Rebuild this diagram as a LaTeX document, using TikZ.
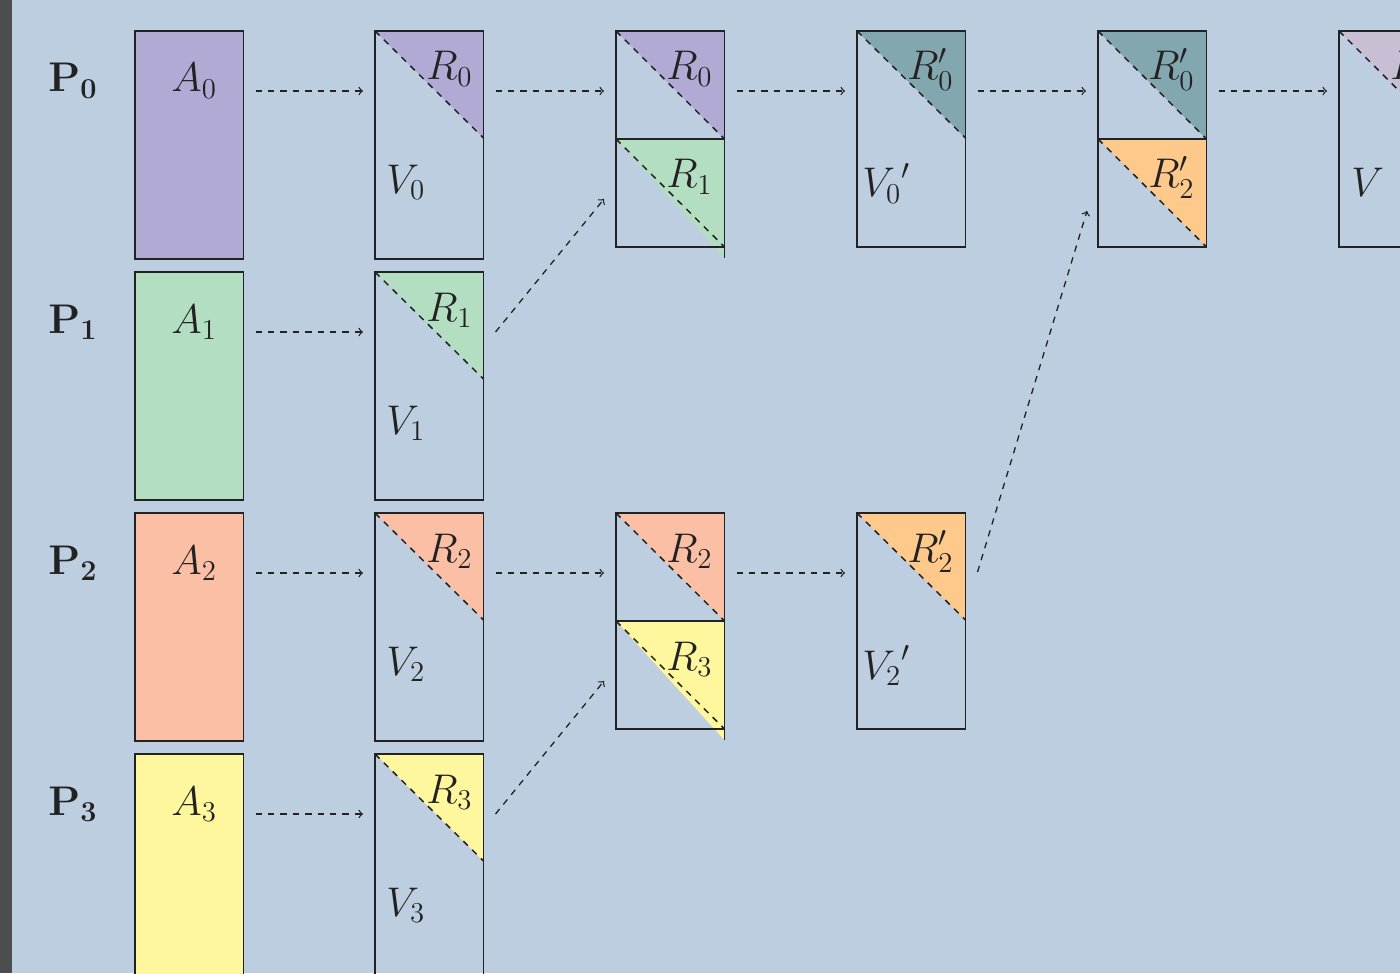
\documentclass[tikz,border=0pt]{standalone}
\usetikzlibrary{calc}
\pgfdeclarelayer{back}
\pgfdeclarelayer{bg}
\pgfsetlayers{back,bg,main}
\definecolor{bgc}{HTML}{BDCEE0}
\definecolor{stripc}{HTML}{4B4D4F}
\definecolor{linec}{HTML}{222222}
\definecolor{cpurple}{HTML}{B0AAD4}
\definecolor{cgreen}{HTML}{B3DEC1}
\definecolor{csalmon}{HTML}{FBBFA5}
\definecolor{cyellow}{HTML}{FFF79D}
\definecolor{cteal}{HTML}{83A7AF}
\definecolor{corange}{HTML}{FEC98A}
\definecolor{clilac}{HTML}{C8BFD4}
\newcommand\halftri[4]{% node, colour, fill drop, line drop
  \begin{pgfonlayer}{bg}
    \fill[#2] (#1.north west) -- (#1.north east) -- ($(#1.north east)+(0,#3)$) -- cycle;
  \end{pgfonlayer}
  \draw[hyp] (#1.north west) -- ($(#1.north east)+(0,#4)$);}
\begin{document}
\begin{tikzpicture}[x=0.5pt,y=-0.5pt,
  font=\fontsize{22.3}{27}\selectfont,
  box/.style={draw=linec, line width=0.95pt, inner sep=0pt, outer sep=0pt, anchor=north west, minimum width=54.25pt},
  tall/.style={box, minimum height=114pt},
  sq/.style={box, minimum height=54pt},
  hyp/.style={draw=linec, line width=0.75pt, dash pattern=on 3.2pt off 3pt},
  arr/.style={draw=linec, line width=0.65pt, dash pattern=on 3.2pt off 3pt, ->},
  lbl/.style={anchor=base west, inner sep=0pt, text=linec}]
\useasboundingbox (0,0) rectangle (1400,973);
\begin{pgfonlayer}{back}
  \fill[bgc] (0,0) rectangle (1400,973);
  \fill[stripc] (0,0) rectangle (12,973);
\end{pgfonlayer}
\clip (0,0) rectangle (1400,973);

% ---- column A ----
\node[tall, fill=cpurple] (A0) at (135,31) {};
\node[tall, fill=cgreen] (A1) at (135,272) {};
\node[tall, fill=csalmon] (A2) at (135,513) {};
\node[tall, fill=cyellow] (A3) at (135,754) {};

% ---- column V ----
\node[tall] (V0) at (375,31) {};
\node[tall] (V1) at (375,272) {};
\node[tall] (V2) at (375,513) {};
\node[tall] (V3) at (375,754) {};
\halftri{V0}{cpurple}{107}{107}
\halftri{V1}{cgreen}{107}{107}
\halftri{V2}{csalmon}{107}{107}
\halftri{V3}{cyellow}{107}{107}

% ---- column C ----
\node[sq] (C0t) at (616,31) {};
\node[sq] (C0b) at (616,139) {};
\node[sq] (C2t) at (616,513) {};
\node[sq] (C2b) at (616,621) {};
\halftri{C0t}{cpurple}{108}{108}
\halftri{C0b}{cgreen}{119}{108}
\halftri{C2t}{csalmon}{108}{108}
\halftri{C2b}{cyellow}{119}{108}
\draw[draw=linec, line width=0.9pt] (C0b.south east) -- ++(0,11);
\draw[draw=linec, line width=0.9pt] (C2b.south east) -- ++(0,11);

% ---- column D ----
\node[box, minimum height=108pt] (D0) at (857,31) {};
\node[box, minimum height=108pt] (D2) at (857,513) {};
\halftri{D0}{cteal}{107}{107}
\halftri{D2}{corange}{107}{107}

% ---- column E ----
\node[sq] (E0t) at (1098,31) {};
\node[sq] (E0b) at (1098,139) {};
\halftri{E0t}{cteal}{108}{108}
\halftri{E0b}{corange}{108}{108}

% ---- column F ----
\node[box, minimum height=108pt] (F0) at (1339,31) {};
\halftri{F0}{clilac}{108}{108}

% ---- labels ----
\node[lbl] (p0) at (48,92) {$\mathbf{P_0}$};
\node[lbl] (p1) at (48,333) {$\mathbf{P_1}$};
\node[lbl] (p2) at (48,574) {$\mathbf{P_2}$};
\node[lbl] (p3) at (48,815) {$\mathbf{P_3}$};
\node[lbl] (a0) at (171,92) {$A_0$};
\node[lbl] (a1) at (171,333) {$A_1$};
\node[lbl] (a2) at (171,574) {$A_2$};
\node[lbl] (a3) at (171,815) {$A_3$};
\node[lbl] (r0) at (426,80) {$R_0$};
\node[lbl] (r1) at (426,321) {$R_1$};
\node[lbl] (r2) at (426,562) {$R_2$};
\node[lbl] (r3) at (426,803) {$R_3$};
\node[lbl] (v0) at (386,193) {$V_0$};
\node[lbl] (v1) at (386,434) {$V_1$};
\node[lbl] (v2) at (386,675) {$V_2$};
\node[lbl] (v3) at (386,916) {$V_3$};
\node[lbl] (c0r) at (666,80) {$R_0$};
\node[lbl] (c1r) at (666,188) {$R_1$};
\node[lbl] (c2r) at (666,562) {$R_2$};
\node[lbl] (c3r) at (666,670) {$R_3$};
\node[lbl] (d0r) at (907,80) {$R_0'$};
\node[lbl] (d0v) at (862,197) {${V_0}'$};
\node[lbl] (d2r) at (907,562) {$R_2'$};
\node[lbl] (d2v) at (862,679) {${V_2}'$};
\node[lbl] (e0r) at (1148,80) {$R_0'$};
\node[lbl] (e2r) at (1148,188) {$R_2'$};
\node[lbl] (fv) at (1351,197) {$V$};
\node[lbl] (fr) at (1390,80) {$R$};

% ---- connectors ----
\draw[arr] ($(A0.north east)+(12,60)$) -- ($(V0.north west)+(-12,60)$);
\draw[arr] ($(A1.north east)+(12,60)$) -- ($(V1.north west)+(-12,60)$);
\draw[arr] ($(A2.north east)+(12,60)$) -- ($(V2.north west)+(-12,60)$);
\draw[arr] ($(A3.north east)+(12,60)$) -- ($(V3.north west)+(-12,60)$);
\draw[arr] ($(V0.north east)+(12,60)$) -- ($(C0t.north west)+(-12,60)$);
\draw[arr] ($(V2.north east)+(12,60)$) -- ($(C2t.north west)+(-12,60)$);
\draw[arr] ($(V1.north east)+(12,60)$) -- ($(C0b.north west)+(-12,60)$);
\draw[arr] ($(V3.north east)+(12,60)$) -- ($(C2b.north west)+(-12,60)$);
\draw[arr] ($(C0t.north east)+(12,60)$) -- ($(D0.north west)+(-12,60)$);
\draw[arr] ($(C2t.north east)+(12,60)$) -- ($(D2.north west)+(-12,60)$);
\draw[arr] ($(D0.north east)+(12,60)$) -- ($(E0t.north west)+(-12,60)$);
\draw[arr] ($(D2.north east)+(12,59)$) -- ($(E0b.north west)+(-11,72)$);
\draw[arr] ($(E0t.north east)+(12,60)$) -- ($(F0.north west)+(-12,60)$);
\end{tikzpicture}
\end{document}
